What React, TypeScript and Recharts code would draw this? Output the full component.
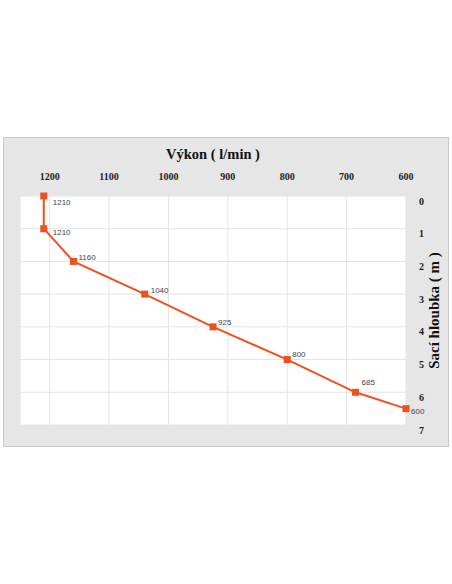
import { LineChart, Line, XAxis, YAxis, CartesianGrid, Label, LabelList } from "recharts";

// výkon čerpadla (l/min) podle sací hloubky (m)
const flow = [1210, 1210, 1160, 1040, 925, 800, 685, 600];
const depth = [0, 1, 2, 3, 4, 5, 6, 6.5];
const flowTicks = [1200, 1100, 1000, 900, 800, 700, 600];
const depthTicks = [0, 1, 2, 3, 4, 5, 6, 7];

// posun popisků bodů
const labelShift = [
    [9, 7],
    [9, 4],
    [5, -4],
    [6, -3],
    [5, -4],
    [5, -5],
    [6, -9],
    [5, 3],
];

const data = flow.map((f, i) => ({ flow: f, depth: depth[i] }));

const ORANGE = "#f0501e";
const serif = "'Liberation Serif', 'Times New Roman', serif";

const SquareDot = (props: any) => {
    const { cx, cy } = props;
    if (cx == null || cy == null) return null;
    return <rect x={cx - 3.5} y={cy - 3.5} width={7} height={7} fill={ORANGE} />;
};

const PointLabel = (props: any) => {
    const { x, y, value, index } = props;
    const [dx, dy] = labelShift[index] || [6, -4];
    return (
        <text
            x={x + dx}
            y={y + dy}
            fontSize={8}
            fontFamily="'Liberation Sans', Arial, sans-serif"
            fill="#444"
            dominantBaseline="middle"
        >
            {value}
        </text>
    );
};

const DepthTitle = (props: any) => {
    const { viewBox } = props;
    const cx = viewBox.x + 30;
    const cy = viewBox.y + viewBox.height / 2;
    return (
        <text
            x={cx}
            y={cy}
            transform={`rotate(-90 ${cx} ${cy})`}
            textAnchor="middle"
            dominantBaseline="middle"
            fontFamily={serif}
            fontWeight="bold"
            fontSize={15}
            fill="#111"
        >
            Sací hloubka ( m )
        </text>
    );
};

export default function App() {
    return (
        <div
            style={{
                position: "absolute",
                left: 3,
                top: 137,
                width: 444,
                height: 308,
                background: "#e6e6e6",
                border: "1px solid #c9c9c9",
            }}
        >
            <LineChart
                width={444}
                height={308}
                data={data}
                margin={{ top: 0, right: 0, bottom: 21, left: 16 }}
            >
                <CartesianGrid stroke="#e4e4e4" fill="#ffffff" />
                <XAxis
                    dataKey="flow"
                    type="number"
                    orientation="top"
                    reversed
                    domain={[600, 1250]}
                    ticks={flowTicks}
                    height={58}
                    axisLine={false}
                    tickLine={{ stroke: "#e4e4e4" }}
                    tickSize={5}
                    tickMargin={11}
                    tick={{ fontFamily: serif, fontWeight: "bold", fontSize: 10, fill: "#222" }}
                >
                    <Label
                        value="Výkon ( l/min )"
                        position="insideTop"
                        offset={11}
                        style={{ fontFamily: serif, fontWeight: "bold", fontSize: 14.5, fill: "#111" }}
                    />
                </XAxis>
                <YAxis
                    dataKey="depth"
                    type="number"
                    orientation="right"
                    reversed
                    domain={[0, 7]}
                    ticks={depthTicks}
                    width={42}
                    axisLine={false}
                    tickLine={false}
                    tickSize={0}
                    tickMargin={13}
                    tick={{ fontFamily: serif, fontWeight: "bold", fontSize: 10, fill: "#222", dy: 5 }}
                >
                    <Label content={<DepthTitle />} />
                </YAxis>
                <Line
                    dataKey="depth"
                    stroke={ORANGE}
                    strokeWidth={2}
                    dot={<SquareDot />}
                    activeDot={false}
                    isAnimationActive={false}
                >
                    <LabelList dataKey="flow" content={<PointLabel />} />
                </Line>
            </LineChart>
        </div>
    );
}
